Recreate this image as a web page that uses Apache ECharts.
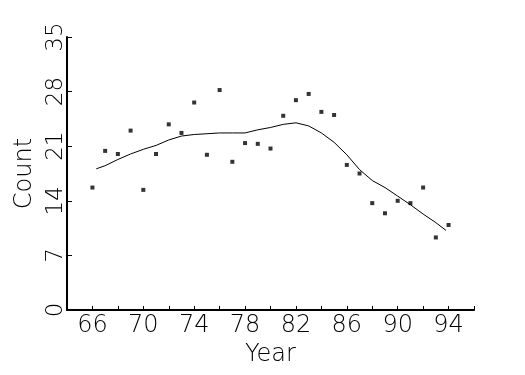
<!DOCTYPE html>
<html>
<head>
<meta charset="utf-8">
<script src="https://cdn.jsdelivr.net/npm/echarts@6/dist/echarts.min.js"></script>
<style>html,body{margin:0;padding:0;background:#fff;}#c{width:525px;height:375px;}</style>
</head>
<body>
<div id="c"></div>
<script>
var pointYears = [66,67,68,69,70,71,72,73,74,75,76,77,78,79,80,81,82,83,84,85,86,87,88,89,90,91,92,93,94];
var pointCounts = [15.7,20.4,20.0,23.0,15.4,20.0,23.8,22.7,26.6,19.9,28.2,19.0,21.4,21.3,20.7,24.9,26.9,27.7,25.4,25.0,18.6,17.5,13.7,12.4,14.0,13.7,15.7,9.3,10.9];
var lineYears = [66.3,67,68,69,70,71,72,73,74,75,76,77,78,79,80,81,82,83,84,85,86,87,88,89,90,91,92,93,93.8];
var lineCounts = [18.1,18.5,19.3,20.0,20.6,21.1,21.8,22.3,22.5,22.6,22.7,22.7,22.7,23.1,23.4,23.8,24.0,23.6,22.7,21.5,19.9,18.0,16.6,15.7,14.6,13.5,12.3,11.2,10.2];
var xLabels = [66,70,74,78,82,86,90,94];
var yTicks = [0,7,14,21,28,35];

var font = 'DejaVu Sans';
var chart = echarts.init(document.getElementById('c'));
chart.setOption({
  animation: false,
  backgroundColor: '#fff',
  grid: {left: 67, right: 51, top: 37, bottom: 65},
  xAxis: {
    type: 'value', min: 64, max: 96, interval: 2,
    name: 'Year', nameLocation: 'middle', nameGap: 33,
    nameTextStyle: {color: '#000', fontSize: 24, fontFamily: font, fontWeight: 200},
    axisLine: {lineStyle: {color: '#000', width: 2}},
    axisTick: {inside: true, length: 4, lineStyle: {color: '#000', width: 1}},
    splitLine: {show: false},
    axisLabel: {
      color: '#000', fontSize: 24, fontFamily: font, fontWeight: 200, margin: 4,
      formatter: function (v) { return xLabels.indexOf(v) >= 0 ? String(v) : ''; }
    }
  },
  yAxis: {
    type: 'value', min: 0, max: 35, interval: 7,
    name: 'Count', nameLocation: 'middle', nameGap: 28,
    nameTextStyle: {color: '#000', fontSize: 24, fontFamily: font, fontWeight: 200},
    axisLine: {show: true, lineStyle: {color: '#000', width: 2}},
    axisTick: {show: true, inside: true, length: 5, lineStyle: {color: '#000', width: 1}},
    splitLine: {show: false},
    axisLabel: {
      color: '#000', fontSize: 23, fontFamily: font, fontWeight: 200, margin: -1, rotate: 90,
      formatter: function (v) { return yTicks.indexOf(v) >= 0 ? String(v) : ''; }
    }
  },
  series: [
    {
      type: 'scatter', symbol: 'rect', symbolSize: 4,
      itemStyle: {color: '#000'},
      data: pointYears.map(function (y, i) { return [y, pointCounts[i]]; })
    },
    {
      type: 'line', showSymbol: false, symbol: 'none',
      lineStyle: {color: '#000', width: 1},
      data: lineYears.map(function (y, i) { return [y, lineCounts[i]]; })
    }
  ]
});
</script>
</body>
</html>
